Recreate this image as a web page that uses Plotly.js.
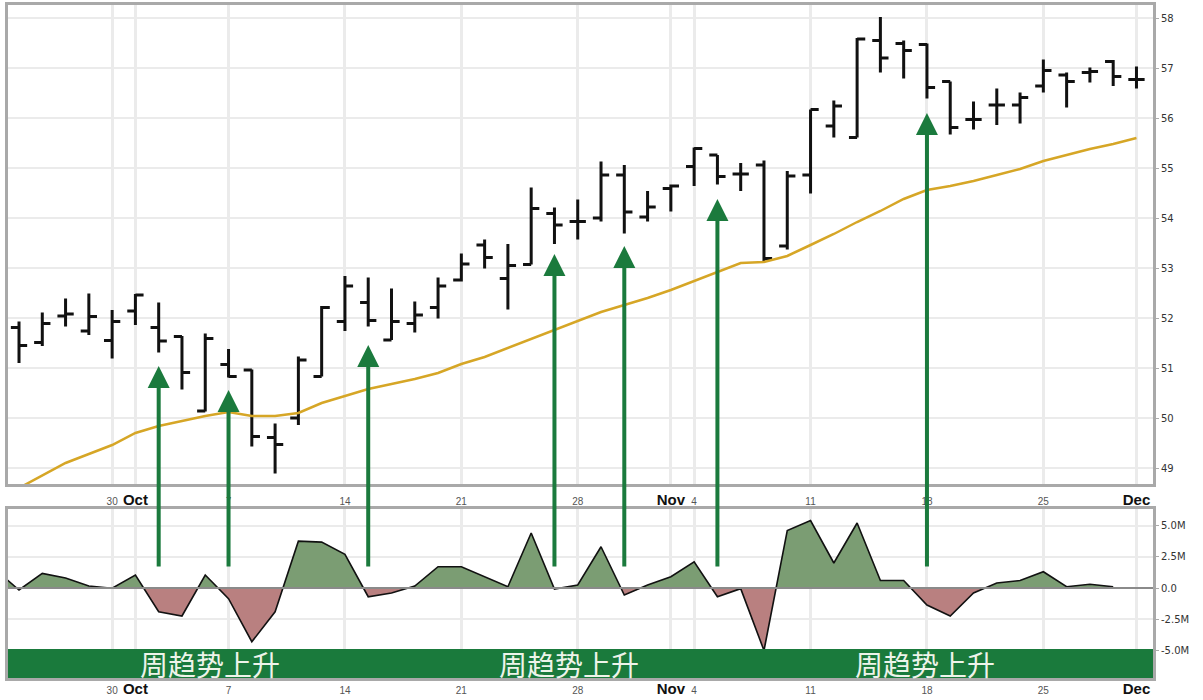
<!DOCTYPE html>
<html><head><meta charset="utf-8">
<script src="https://cdn.plot.ly/plotly-3.0.1.min.js"></script>
<style>html,body{margin:0;padding:0;background:#fff}#chart{width:1203px;height:700px}</style>
</head><body><div id="chart"></div>
<script>
// ---- data ----
const dates = ['2013-09-23','2013-09-24','2013-09-25','2013-09-26','2013-09-27','2013-09-30',
 '2013-10-01','2013-10-02','2013-10-03','2013-10-04','2013-10-07','2013-10-08','2013-10-09','2013-10-10','2013-10-11',
 '2013-10-14','2013-10-15','2013-10-16','2013-10-17','2013-10-18','2013-10-21','2013-10-22','2013-10-23','2013-10-24','2013-10-25',
 '2013-10-28','2013-10-29','2013-10-30','2013-10-31','2013-11-01','2013-11-04','2013-11-05','2013-11-06','2013-11-07','2013-11-08',
 '2013-11-11','2013-11-12','2013-11-13','2013-11-14','2013-11-15','2013-11-18','2013-11-19','2013-11-20','2013-11-21','2013-11-22',
 '2013-11-25','2013-11-26','2013-11-27','2013-11-29','2013-12-02'];
const barDates = dates.slice(1);
const openP = [51.81,51.51,52.04,51.74,51.55,52.14,51.81,51.63,50.14,51.07,50.96,49.61,50.0,50.83,51.93,52.31,51.56,51.89,52.21,52.76,53.46,52.79,53.07,54.09,53.93,54.0,54.86,54.02,54.59,55.03,55.26,54.88,55.06,53.44,54.86,55.84,55.61,57.55,57.49,57.47,56.73,55.97,56.26,56.26,56.64,56.86,56.91,57.13,56.77];
const highP = [51.93,52.11,52.39,52.49,52.16,52.48,52.31,51.64,51.69,51.38,50.97,49.89,51.23,52.24,52.84,52.81,52.59,52.33,52.81,53.29,53.57,53.48,54.61,54.21,54.37,55.13,55.06,54.54,54.67,55.41,55.26,55.1,55.15,54.94,56.17,56.35,57.6,58.02,57.55,57.49,56.73,56.33,56.59,56.51,57.17,56.91,57.01,57.16,57.03];
const lowP = [51.1,51.44,51.83,51.66,51.19,51.86,51.31,50.57,50.13,50.81,49.43,48.89,49.86,50.83,51.74,51.83,51.56,51.71,51.99,52.73,52.99,52.17,53.07,53.48,53.57,53.93,53.69,53.93,54.13,54.64,54.67,54.54,53.14,53.37,54.49,55.61,55.61,56.91,56.79,56.39,55.67,55.77,55.86,55.89,56.51,56.21,56.71,56.64,56.59];
const closeP = [51.45,51.89,52.08,52.03,51.93,52.46,51.54,50.91,51.59,50.83,49.63,49.47,51.16,52.21,52.64,51.95,51.93,52.06,52.64,53.08,53.21,53.05,54.19,53.86,53.93,54.86,54.12,54.22,54.64,55.39,54.83,54.88,53.19,54.84,56.17,56.24,57.58,57.2,57.35,56.61,55.81,55.97,56.26,56.41,56.95,56.73,56.93,56.83,56.77];
const movingAvg = [48.35,48.6,48.86,49.1,49.28,49.46,49.7,49.84,49.94,50.04,50.12,50.04,50.04,50.1,50.3,50.44,50.58,50.68,50.78,50.9,51.08,51.22,51.4,51.58,51.76,51.94,52.12,52.26,52.4,52.56,52.74,52.92,53.1,53.12,53.24,53.46,53.68,53.92,54.14,54.38,54.56,54.64,54.74,54.86,54.98,55.14,55.26,55.38,55.48,55.6];
const oscM = [1.45,-0.16,1.17,0.8,0.16,-0.02,1.04,-1.9,-2.24,1.04,-0.85,-4.3,-1.9,3.75,3.67,2.7,-0.7,-0.4,0.16,1.7,1.7,0.9,0.1,4.4,-0.08,0.24,3.3,-0.56,0.24,0.9,2.1,-0.7,-0.05,-5.0,4.6,5.4,2.0,5.2,0.6,0.6,-1.36,-2.24,-0.4,0.4,0.6,1.3,0.1,0.3,0.1,null];
const tickDates = ['2013-09-30','2013-10-01','2013-10-07','2013-10-14','2013-10-21','2013-10-28','2013-11-01','2013-11-04','2013-11-11','2013-11-18','2013-11-25','2013-12-02'];
const tickLabels = ['30','Oct','7','14','21','28','Nov','4','11','18','25','Dec'];
const priceTicks = [49,50,51,52,53,54,55,56,57,58];
const oscTicks = [-5,-2.5,0,2.5,5];
const oscTickLabels = ['-5.0M','-2.5M','0.0','2.5M','5.0M'];
const arrowDates = ['2013-10-02','2013-10-07','2013-10-15','2013-10-25','2013-10-30','2013-11-05','2013-11-18'];
const arrowTips = [51.04,50.56,51.46,53.28,53.44,54.38,56.1];
const bandText = '周趋势上升';

// ---- layout constants ----
const W = 1203, H = 700;
const mL = 8, mR = 50, mT = 5, mB = 22;
const plotH = H - mT - mB;
const topDomain = [(678 - 484) / plotH, 1];
const lowTop = (678 - 509) / plotH;
const priceRange = [48.68, 58.26];
const oscRange = [-7.2, 6.32];
const zeroP = lowTop * (0 - oscRange[0]) / (oscRange[1] - oscRange[0]);
const xRange = [0.527, 49.71];
const bandTop = (678 - 649) / plotH;
const arrowTail = 47.0;

const months = ['Oct','Nov','Dec'];
const tickText = tickLabels.map(t => months.includes(t)
  ? '<span style="font-size:15px;font-weight:bold;fill:#111">' + t + '</span>' : t);

const gridC = '#ebebeb', frameC = '#a9a9a9';
const xBase = {
  type: 'category', categoryorder: 'array', categoryarray: dates, range: xRange,
  tickmode: 'array', tickvals: tickDates, ticktext: tickText,
  tickfont: {family: 'Liberation Sans, Arial, sans-serif', size: 10, color: '#555'},
  showgrid: true, gridcolor: gridC, gridwidth: 3, ticks: '',
  showline: true, mirror: true, linecolor: frameC, linewidth: 3, zeroline: false,
  ticklabelstandoff: 6, fixedrange: true
};
const hidden = {visible: false, showgrid: false, zeroline: false, fixedrange: true};

const traces = [
  {type: 'ohlc', x: barDates, open: openP, high: highP, low: lowP, close: closeP,
   increasing: {line: {color: '#111', width: 3}}, decreasing: {line: {color: '#111', width: 3}},
   tickwidth: 0.35, xaxis: 'x', yaxis: 'y', hoverinfo: 'skip', showlegend: false},
  {type: 'scatter', mode: 'lines', x: dates, y: movingAvg, line: {color: '#d6a626', width: 2.5},
   xaxis: 'x', yaxis: 'y', hoverinfo: 'skip', showlegend: false},
  {type: 'scatter', mode: 'lines', x: dates, y: oscM, fill: 'tozeroy', fillcolor: '#7b9d73',
   line: {width: 0, color: 'rgba(0,0,0,0)'}, xaxis: 'x3', yaxis: 'y3', hoverinfo: 'skip', showlegend: false},
  {type: 'scatter', mode: 'lines', x: dates, y: oscM, fill: 'tozeroy', fillcolor: '#b98080',
   line: {width: 0, color: 'rgba(0,0,0,0)'}, xaxis: 'x3', yaxis: 'y4', hoverinfo: 'skip', showlegend: false},
  {type: 'scatter', mode: 'lines', x: dates, y: oscM, line: {color: '#111', width: 1.6},
   xaxis: 'x3', yaxis: 'y5', hoverinfo: 'skip', showlegend: false}
];

const annotations = arrowDates.map((d, i) => ({
  x: d, y: arrowTips[i], xref: 'x', yref: 'y', ax: d, ay: arrowTail, axref: 'x', ayref: 'y',
  text: '', showarrow: true, arrowhead: 2, arrowsize: 1.1, arrowwidth: 4, arrowcolor: '#1b7a3d'
}));
[0.1764, 0.49, 0.801].forEach(px => annotations.push({
  x: px, y: bandTop / 2, xref: 'paper', yref: 'paper', text: bandText, showarrow: false,
  xanchor: 'center', yanchor: 'middle',
  font: {family: 'Noto Sans CJK SC, sans-serif', size: 28, color: '#eef4ea'}
}));

const layout = {
  width: W, height: H, margin: {l: mL, r: mR, t: mT, b: mB},
  paper_bgcolor: '#fff', plot_bgcolor: 'rgba(0,0,0,0)', showlegend: false, hovermode: false,
  xaxis: Object.assign({}, xBase, {anchor: 'y', rangeslider: {visible: false}}),
  yaxis: {domain: topDomain, range: priceRange, side: 'right', tickmode: 'array', tickvals: priceTicks,
    tickfont: {family: 'DejaVu Sans, sans-serif', size: 10, color: '#333'},
    showgrid: true, gridcolor: gridC, gridwidth: 1.5, zeroline: false,
    showline: true, mirror: true, linecolor: frameC, linewidth: 3,
    ticks: 'outside', ticklen: 3, tickcolor: '#aaa', anchor: 'x', fixedrange: true},
  xaxis2: Object.assign({}, xBase, {anchor: 'y2', ticklabelstandoff: 1}),
  yaxis2: {domain: [0, lowTop], range: oscRange, side: 'right', tickmode: 'array',
    tickvals: oscTicks, ticktext: oscTickLabels,
    tickfont: {family: 'DejaVu Sans, sans-serif', size: 10, color: '#333'},
    showgrid: true, gridcolor: gridC, gridwidth: 2, zeroline: false,
    showline: true, mirror: true, linecolor: frameC, linewidth: 3,
    ticks: 'outside', ticklen: 3, tickcolor: '#aaa', anchor: 'x2', fixedrange: true},
  xaxis3: Object.assign({}, hidden, {type: 'category', categoryorder: 'array', categoryarray: dates, range: xRange, anchor: 'y3'}),
  yaxis3: Object.assign({}, hidden, {domain: [zeroP, lowTop], range: [0, oscRange[1]], anchor: 'x3'}),
  yaxis4: Object.assign({}, hidden, {domain: [0, zeroP], range: [oscRange[0], 0], anchor: 'x3'}),
  yaxis5: Object.assign({}, hidden, {domain: [0, lowTop], range: oscRange, anchor: 'x3'}),
  shapes: [
    {type: 'line', xref: 'paper', yref: 'y2', x0: 0, x1: 1, y0: 0, y1: 0,
     line: {color: '#8a8a8a', width: 2}, layer: 'above'},
    {type: 'rect', xref: 'paper', yref: 'paper', x0: 0, x1: 1, y0: 0, y1: bandTop,
     fillcolor: '#1a7a3c', line: {width: 0}, layer: 'above'}
  ],
  annotations: annotations
};

Plotly.newPlot('chart', traces, layout, {displayModeBar: false, staticPlot: true});
</script></body></html>
